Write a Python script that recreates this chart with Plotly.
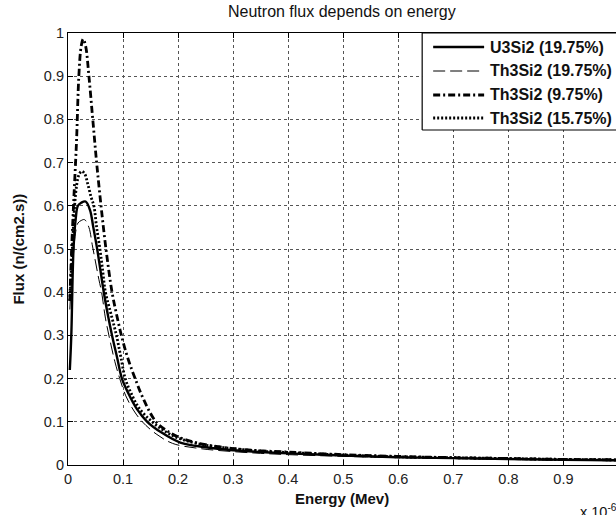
import plotly.graph_objects as go

# ---------------- data (energy in units of 1e-6 MeV) ----------------
x_u3si2_1975 = [0.0033, 0.006, 0.010, 0.014, 0.018, 0.024, 0.032, 0.040, 0.046, 0.053, 0.059, 0.065,
                0.072, 0.080, 0.089, 0.098, 0.110, 0.125, 0.144, 0.170, 0.204, 0.25, 0.30, 0.35,
                0.40, 0.50, 0.60, 0.70, 0.80, 0.90, 1.00]
y_u3si2_1975 = [0.22, 0.30, 0.50, 0.57, 0.60, 0.607, 0.61, 0.59, 0.55, 0.50, 0.45, 0.40,
                0.35, 0.30, 0.25, 0.20, 0.165, 0.13, 0.10, 0.075, 0.052, 0.041, 0.034, 0.030,
                0.027, 0.022, 0.018, 0.016, 0.014, 0.012, 0.011]

x_th3si2_1975 = [0.0033, 0.006, 0.010, 0.014, 0.018, 0.024, 0.030, 0.038, 0.044, 0.050, 0.056, 0.061,
                 0.068, 0.076, 0.085, 0.094, 0.105, 0.120, 0.135, 0.160, 0.19, 0.24, 0.30, 0.35,
                 0.40, 0.50, 0.60, 0.70, 0.80, 0.90, 1.00]
y_th3si2_1975 = [0.36, 0.42, 0.49, 0.54, 0.56, 0.566, 0.568, 0.55, 0.51, 0.47, 0.43, 0.40,
                 0.34, 0.29, 0.24, 0.20, 0.16, 0.125, 0.10, 0.072, 0.05, 0.038, 0.031, 0.027,
                 0.024, 0.020, 0.017, 0.015, 0.013, 0.011, 0.010]

x_th3si2_975 = [0.0033, 0.006, 0.010, 0.0155, 0.0197, 0.024, 0.0276, 0.032, 0.038, 0.045, 0.052, 0.060,
                0.069, 0.080, 0.088, 0.097, 0.108, 0.122, 0.138, 0.160, 0.185, 0.21, 0.25, 0.30,
                0.35, 0.40, 0.50, 0.60, 0.70, 0.80, 0.90, 1.00]
y_th3si2_975 = [0.38, 0.48, 0.60, 0.75, 0.90, 0.97, 0.986, 0.97, 0.90, 0.80, 0.70, 0.60,
                0.50, 0.40, 0.35, 0.30, 0.25, 0.20, 0.15, 0.10, 0.075, 0.06, 0.047, 0.038,
                0.033, 0.030, 0.024, 0.020, 0.017, 0.015, 0.013, 0.012]

x_th3si2_1575 = [0.0033, 0.006, 0.009, 0.012, 0.016, 0.020, 0.025, 0.030, 0.036, 0.042, 0.047, 0.052,
                 0.058, 0.063, 0.068, 0.078, 0.088, 0.096, 0.104, 0.115, 0.130, 0.153, 0.18, 0.21,
                 0.25, 0.30, 0.35, 0.40, 0.50, 0.60, 0.70, 0.80, 0.90, 1.00]
y_th3si2_1575 = [0.38, 0.45, 0.53, 0.60, 0.65, 0.672, 0.68, 0.675, 0.65, 0.62, 0.60, 0.55,
                 0.50, 0.45, 0.40, 0.35, 0.30, 0.25, 0.20, 0.165, 0.13, 0.10, 0.075, 0.058,
                 0.046, 0.038, 0.032, 0.029, 0.023, 0.019, 0.017, 0.015, 0.013, 0.012]

series_names = ["U3Si2 (19.75%)", "Th3Si2 (19.75%)", "Th3Si2 (9.75%)", "Th3Si2 (15.75%)"]
x_ticks = [0, 0.1, 0.2, 0.3, 0.4, 0.5, 0.6, 0.7, 0.8, 0.9, 1.0]
x_tick_labels = ["0", "0.1", "0.2", "0.3", "0.4", "0.5", "0.6", "0.7", "0.8", "0.9", "1"]
y_ticks = [0, 0.1, 0.2, 0.3, 0.4, 0.5, 0.6, 0.7, 0.8, 0.9, 1.0]
y_tick_labels = ["0", "0.1", "0.2", "0.3", "0.4", "0.5", "0.6", "0.7", "0.8", "0.9", "1"]

# ---------------- styling ----------------
W, H = 616, 515
L, T, B = 67.5, 33, 50
R = 0
plot_w = W - L - R
plot_h = H - T - B
x_full_px = 551.0  # pixels per unit x (axis would end just off-screen)
FONT = "Liberation Sans, Arial, Helvetica, sans-serif"

styles = [
    dict(color="black", width=2.4, dash="solid"),
    dict(color="black", width=1.0, dash="12px,5px"),
    dict(color="black", width=2.8, dash="7px,3px,2px,3px"),
    dict(color="black", width=2.8, dash="2px,2px"),
]
xs = [x_u3si2_1975, x_th3si2_1975, x_th3si2_975, x_th3si2_1575]
ys = [y_u3si2_1975, y_th3si2_1975, y_th3si2_975, y_th3si2_1575]

fig = go.Figure()
for xv, yv, st, nm in zip(xs, ys, styles, series_names):
    fig.add_trace(go.Scatter(x=xv, y=yv, mode="lines", name=nm, line=st,
                             line_shape="spline", showlegend=False))

grid_kw = dict(showgrid=True, gridcolor="#555555", gridwidth=1, griddash="3px,3px",
               showline=True, linecolor="black", linewidth=1.2,
               ticks="inside", ticklen=5, tickcolor="black", zeroline=False,
               tickfont=dict(family=FONT, size=14.5, color="#222"))

fig.update_layout(
    width=W, height=H,
    margin=dict(l=L, r=R, t=T, b=B, pad=0),
    paper_bgcolor="white", plot_bgcolor="white",
    xaxis=dict(range=[0, plot_w / x_full_px], tickvals=x_ticks, ticktext=x_tick_labels,
               mirror="ticks", **grid_kw),
    yaxis=dict(range=[0, 1], tickvals=y_ticks, ticktext=y_tick_labels, mirror=False,
               **grid_kw),
)

def px(xp):
    return (xp - L) / plot_w

def py(yp):
    return (H - B - yp) / plot_h

# title & axis labels
ann = [
    dict(text="Neutron flux depends on energy", x=px(342), y=py(12), xref="paper", yref="paper",
         showarrow=False, font=dict(family=FONT, size=16, color="#111"), xanchor="center", yanchor="middle"),
    dict(text="<b>Energy (Mev)</b>", x=px(342), y=py(498), xref="paper", yref="paper",
         showarrow=False, font=dict(family=FONT, size=15, color="#111"), xanchor="center", yanchor="middle"),
    dict(text="<b>Flux (n/(cm2.s))</b>", x=px(17), y=py(249), xref="paper", yref="paper", textangle=-90,
         showarrow=False, font=dict(family=FONT, size=15, color="#111"), xanchor="center", yanchor="middle"),
    dict(text="x 10<sup>-6</sup>", x=px(578), y=py(511), xref="paper", yref="paper",
         showarrow=False, font=dict(family=FONT, size=14.5, color="#111"), xanchor="left", yanchor="middle"),
]

# custom legend (MATLAB style); box runs off the right edge, so no right border
lx0, ly0, ly1 = 422, 33, 130
x_off = px(W + 30)
shapes = [
    dict(type="rect", xref="paper", yref="paper", x0=px(lx0), x1=x_off, y0=py(ly1), y1=py(ly0),
         line=dict(width=0), fillcolor="white", layer="above"),
    dict(type="line", xref="paper", yref="paper", x0=px(lx0), x1=px(lx0), y0=py(ly1), y1=py(ly0),
         line=dict(color="black", width=1.2), layer="above"),
    dict(type="line", xref="paper", yref="paper", x0=px(lx0), x1=x_off, y0=py(ly1), y1=py(ly1),
         line=dict(color="black", width=1.2), layer="above"),
    dict(type="line", xref="paper", yref="paper", x0=px(lx0), x1=x_off, y0=py(ly0), y1=py(ly0),
         line=dict(color="black", width=1.2), layer="above"),
]
entry_y = [47, 71, 95, 118]
for st, nm, ey in zip(styles, series_names, entry_y):
    shapes.append(dict(type="line", xref="paper", yref="paper", x0=px(433), x1=px(484), y0=py(ey), y1=py(ey),
                       line=dict(color="black", width=st["width"], dash=st["dash"]), layer="above"))
    ann.append(dict(text="<b>" + nm + "</b>", x=px(488), y=py(ey), xref="paper", yref="paper",
                    showarrow=False, font=dict(family=FONT, size=16, color="#111"),
                    xanchor="left", yanchor="middle"))

fig.update_layout(annotations=ann, shapes=shapes)
fig.write_html("out.html")
